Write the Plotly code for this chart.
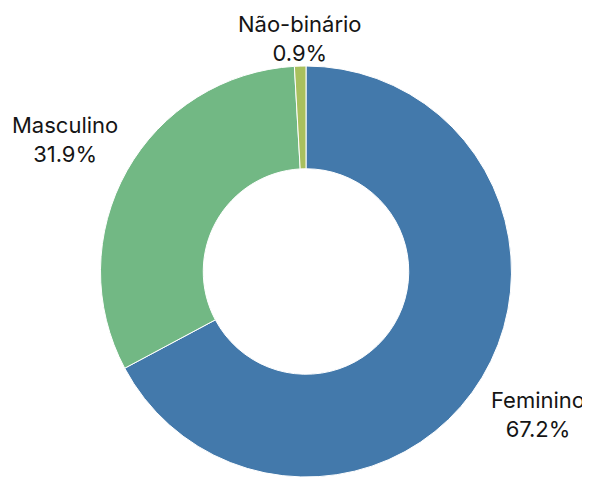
import plotly.graph_objects as go

labels = ["Feminino", "Masculino", "Não-binário"]
values = [67.2, 31.9, 0.9]
colors = ["#4379ab", "#72b884", "#a9c05e"]

# the page body adds an 8px margin, so the figure is drawn 8px in from the corner
OFF = 8
W, H = 590 - OFF, 477 - OFF
# label block centres in page pixels (from top-left)
label_pos = {"Feminino": (538, 414), "Masculino": (65, 139), "Não-binário": (300, 38)}

fig = go.Figure(go.Pie(
    labels=labels,
    values=values,
    hole=0.5,
    sort=False,
    direction="clockwise",
    rotation=0,
    automargin=False,
    marker=dict(colors=colors, line=dict(color="white", width=1)),
    textinfo="none",
    hoverinfo="label+percent",
    showlegend=False,
    domain=dict(x=[(100 - OFF) / W, (512 - OFF) / W], y=[0, (H - (66 - OFF)) / H]),
))
total = sum(values)
for lab, val in zip(labels, values):
    px, py = label_pos[lab]
    fig.add_annotation(
        x=(px - OFF) / W, y=1 - (py - OFF) / H, xref="paper", yref="paper",
        text=f"{lab}<br>{val / total * 100:.1f}%",
        showarrow=False, xanchor="center", yanchor="middle", align="center",
        font=dict(family="Inter", size=22, color="#151515"),
    )
fig.update_layout(
    width=W, height=H,
    margin=dict(l=0, r=0, t=0, b=0),
    paper_bgcolor="white",
)
fig.write_html("out.html")
